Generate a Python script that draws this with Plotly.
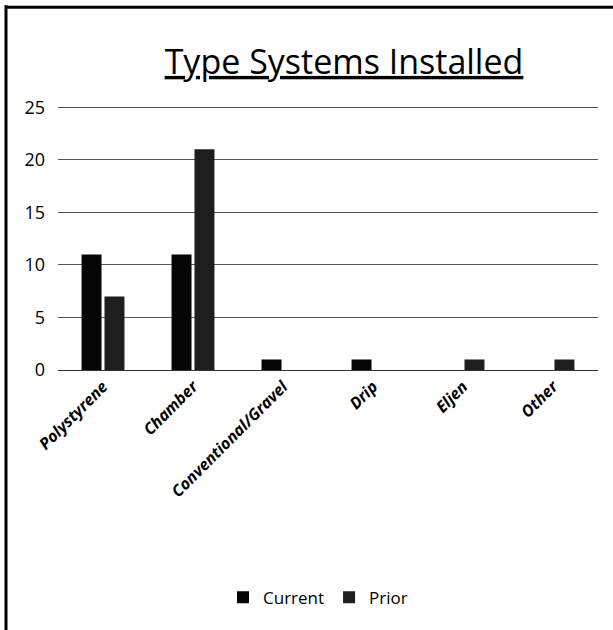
import plotly.graph_objects as go

categories = ["Polystyrene", "Chamber", "Conventional/Gravel", "Drip", "Eljen", "Other"]
current = [11, 11, 1, 1, 0, 0]
prior = [7, 21, 0, 0, 1, 1]
y_ticks = [0, 5, 10, 15, 20, 25]
y_max = 25.5

W, H = 613, 630
L, R, B = 58, 15, 260
zero_px, top_px = 370, 107
ph = (zero_px - top_px) * y_max / 25
T = H - B - ph
pw = W - L - R

def px_to_paper_x(px):
    return (px - L) / pw

def px_to_paper_y(py):
    return (H - B - py) / ph

fig = go.Figure()
fig.add_trace(go.Bar(name="Current", x=categories, y=current, marker_color="#050505",
                     marker_line_width=0))
fig.add_trace(go.Bar(name="Prior", x=categories, y=prior, marker_color="#1e1e1e",
                     marker_line_width=0))

font_family = "'Open Sans', Lato, sans-serif"

fig.update_layout(
    width=W, height=H,
    margin=dict(l=L, r=R, t=T, b=B, autoexpand=False),
    paper_bgcolor="white", plot_bgcolor="white",
    barmode="group", bargap=0.49, bargroupgap=0.13,
    title=dict(text="<u>Type Systems Installed</u>", x=344 / W, xanchor="center",
               y=1 - 62 / H, yanchor="middle", xref="container",
               font=dict(family=font_family, size=34, color="black")),
    showlegend=True,
    legend=dict(orientation="h", x=px_to_paper_x(318), xanchor="center",
                y=px_to_paper_y(598), yanchor="middle",
                font=dict(family=font_family, size=17, color="black"),
                itemwidth=30, traceorder="normal", bgcolor="rgba(0,0,0,0)"),
    xaxis=dict(tickangle=-45, showgrid=False, showline=True, linecolor="#333", linewidth=1,
               ticks="", tickfont=dict(family=font_family, size=16, color="black",
                                       weight="bold", style="italic")),
    yaxis=dict(range=[0, y_max], tickvals=y_ticks, showgrid=True, gridcolor="#555", gridwidth=1,
               zeroline=False, showline=False, ticks="",
               ticklabelstandoff=12,
               tickfont=dict(family=font_family, size=18, color="black")),
    shapes=[
        dict(type="line", xref="paper", yref="paper",
             x0=px_to_paper_x(6), x1=px_to_paper_x(6),
             y0=px_to_paper_y(5), y1=px_to_paper_y(H + 5),
             line=dict(color="black", width=3)),
        dict(type="line", xref="paper", yref="paper",
             x0=px_to_paper_x(5), x1=px_to_paper_x(W + 5),
             y0=px_to_paper_y(7), y1=px_to_paper_y(7),
             line=dict(color="black", width=3)),
    ],
)

fig.write_html("out.html", config={"displayModeBar": False},
               post_script="document.body.style.margin='0';document.body.style.overflow='hidden';")
